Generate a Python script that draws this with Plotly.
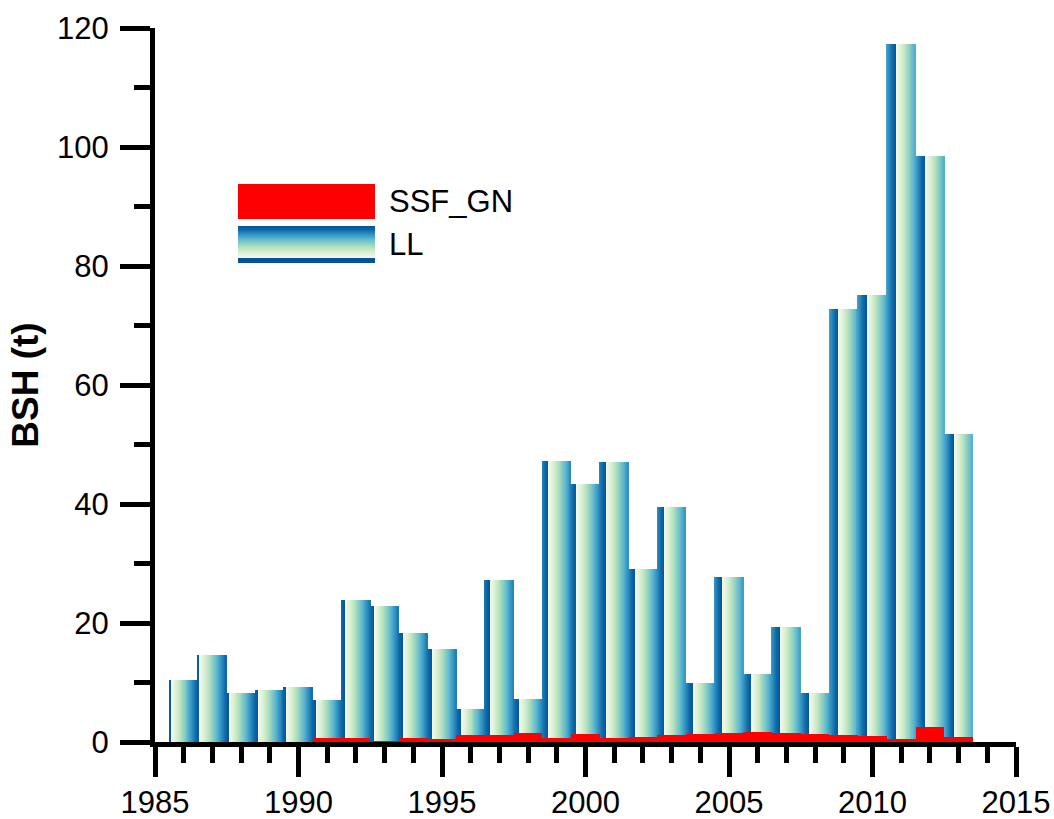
import numpy as np
import plotly.graph_objects as go

# ---------------- data ----------------
years = list(range(1986, 2014))
ll_values = [10.5, 14.7, 8.2, 8.7, 9.2, 7.1, 23.9, 22.8, 18.3, 15.6, 5.5, 27.3, 7.3,
             47.3, 43.3, 47.0, 29.0, 39.5, 9.9, 27.8, 11.5, 19.3, 8.2, 72.8, 75.1,
             117.3, 98.5, 51.7]
ssf_gn_values = [0, 0, 0, 0, 0, 0.6, 0.6, 0.15, 0.6, 0.5, 1.2, 1.2, 1.55, 0.65, 1.4,
                 0.65, 0.9, 1.2, 1.35, 1.55, 1.7, 1.55, 1.4, 1.2, 1.0, 0.55, 2.5, 0.85]
series_names = ["SSF_GN", "LL"]
x_tick_vals = [1985, 1990, 1995, 2000, 2005, 2010, 2015]
y_tick_vals = [0, 20, 40, 60, 80, 100, 120]

# ---------------- style ----------------
FONT = "Arial, Liberation Sans, sans-serif"
TICK_SIZE = 31
GNBU = [[0.0, "#f3faee"], [0.15, "#dff2d8"], [0.3, "#bfe5bf"], [0.45, "#8fd0c2"],
        [0.6, "#5bb6d0"], [0.75, "#2f8fc0"], [0.88, "#0e6aa8"], [1.0, "#07539a"]]

W, H = 1054, 819
L, R, T, B = 155, 38, 28, 77
PW, PH = W - L - R, H - T - B

# horizontal gradient pattern (period slightly larger than one bar)
period = 1.011
phase0 = 1985.57
n_slices = 29

sx, sy, sw, sc = [], [], [], []
for yr, v in zip(years, ll_values):
    for k in range(n_slices):
        xc = yr - 0.5 + (k + 0.5) / n_slices
        sx.append(xc)
        sy.append(v)
        sw.append(1.35 / n_slices)
        sc.append(((xc - phase0) / period) % 1.0)

fig = go.Figure()
fig.add_trace(go.Bar(
    x=sx, y=sy, width=sw, name=series_names[1], showlegend=False,
    marker=dict(color=sc, colorscale=GNBU, cmin=0, cmax=1, line=dict(width=0)),
    hoverinfo="skip"))
fig.add_trace(go.Bar(
    x=years, y=ssf_gn_values, width=1.0, name=series_names[0], showlegend=False,
    marker=dict(color="#ff0000", line=dict(width=0))))


def px2paper(xp, yp):
    return (xp - L) / PW, (H - B - yp) / PH


shapes = []
# legend: red swatch
x0p, y0p = px2paper(238, 219)
x1p, y1p = px2paper(375, 184)
shapes.append(dict(type="rect", xref="paper", yref="paper", x0=x0p, x1=x1p, y0=y0p, y1=y1p,
                   fillcolor="#ff0000", line=dict(width=0), layer="above"))


# legend: gradient swatch (vertical gradient)
def interp_color(t):
    for i in range(len(GNBU) - 1):
        a, ca = GNBU[i]
        b, cb = GNBU[i + 1]
        if a <= t <= b:
            f = (t - a) / (b - a) if b > a else 0
            ra, ga, ba_ = int(ca[1:3], 16), int(ca[3:5], 16), int(ca[5:7], 16)
            rb, gb, bb = int(cb[1:3], 16), int(cb[3:5], 16), int(cb[5:7], 16)
            return "rgb(%d,%d,%d)" % (ra + (rb - ra) * f, ga + (gb - ga) * f, ba_ + (bb - ba_) * f)
    return GNBU[-1][1]


top_px, bot_px = 226, 258
nstripe = bot_px - top_px
for i in range(nstripe):
    t = 1 - (i + 0.5) / nstripe
    xa, ya = px2paper(238, top_px + i + 1.3)
    xb, yb = px2paper(375, top_px + i)
    shapes.append(dict(type="rect", xref="paper", yref="paper", x0=xa, x1=xb, y0=ya, y1=yb,
                       fillcolor=interp_color(t), line=dict(width=0), layer="above"))
xa, ya = px2paper(238, 263)
xb, yb = px2paper(375, 258)
shapes.append(dict(type="rect", xref="paper", yref="paper", x0=xa, x1=xb, y0=ya, y1=yb,
                   fillcolor="#07539a", line=dict(width=0), layer="above"))

annotations = []
ax_, ay_ = px2paper(387, 201)
annotations.append(dict(xref="paper", yref="paper", x=ax_, y=ay_, text=series_names[0],
                        showarrow=False, xanchor="left", yanchor="middle",
                        font=dict(family=FONT, size=31, color="black")))
ax_, ay_ = px2paper(387, 244)
annotations.append(dict(xref="paper", yref="paper", x=ax_, y=ay_, text=series_names[1],
                        showarrow=False, xanchor="left", yanchor="middle",
                        font=dict(family=FONT, size=31, color="black")))

fig.update_layout(
    width=W, height=H,
    margin=dict(l=L, r=R, t=T, b=B),
    paper_bgcolor="white", plot_bgcolor="white",
    barmode="overlay", bargap=0,
    showlegend=False,
    shapes=shapes, annotations=annotations,
    font=dict(family=FONT, color="black"),
    xaxis=dict(range=[1985, 2015], tickmode="array", tickvals=x_tick_vals,
               ticktext=[str(v) for v in x_tick_vals], automargin=False,
               showgrid=False, zeroline=False, showline=True, linewidth=5, linecolor="black",
               ticks="outside", ticklen=30, tickwidth=5, tickcolor="black",
               tickfont=dict(family=FONT, size=TICK_SIZE, color="black"),
               ticklabelstandoff=-1,
               minor=dict(dtick=1, tick0=1985, ticks="outside", ticklen=16, tickwidth=5,
                          tickcolor="black", showgrid=False)),
    yaxis=dict(range=[0, 120], tickmode="array", tickvals=y_tick_vals,
               ticktext=[str(v) for v in y_tick_vals], automargin=False,
               showgrid=False, zeroline=False, showline=True, linewidth=5, linecolor="black",
               ticks="outside", ticklen=30, tickwidth=5, tickcolor="black",
               tickfont=dict(family=FONT, size=TICK_SIZE, color="black"),
               ticklabelstandoff=5,
               minor=dict(dtick=10, tick0=0, ticks="outside", ticklen=16, tickwidth=5,
                          tickcolor="black", showgrid=False),
               title=dict(text="<b>BSH (t)</b>", standoff=9,
                          font=dict(family=FONT, size=37, color="black"))),
)

fig.write_html("out.html")
